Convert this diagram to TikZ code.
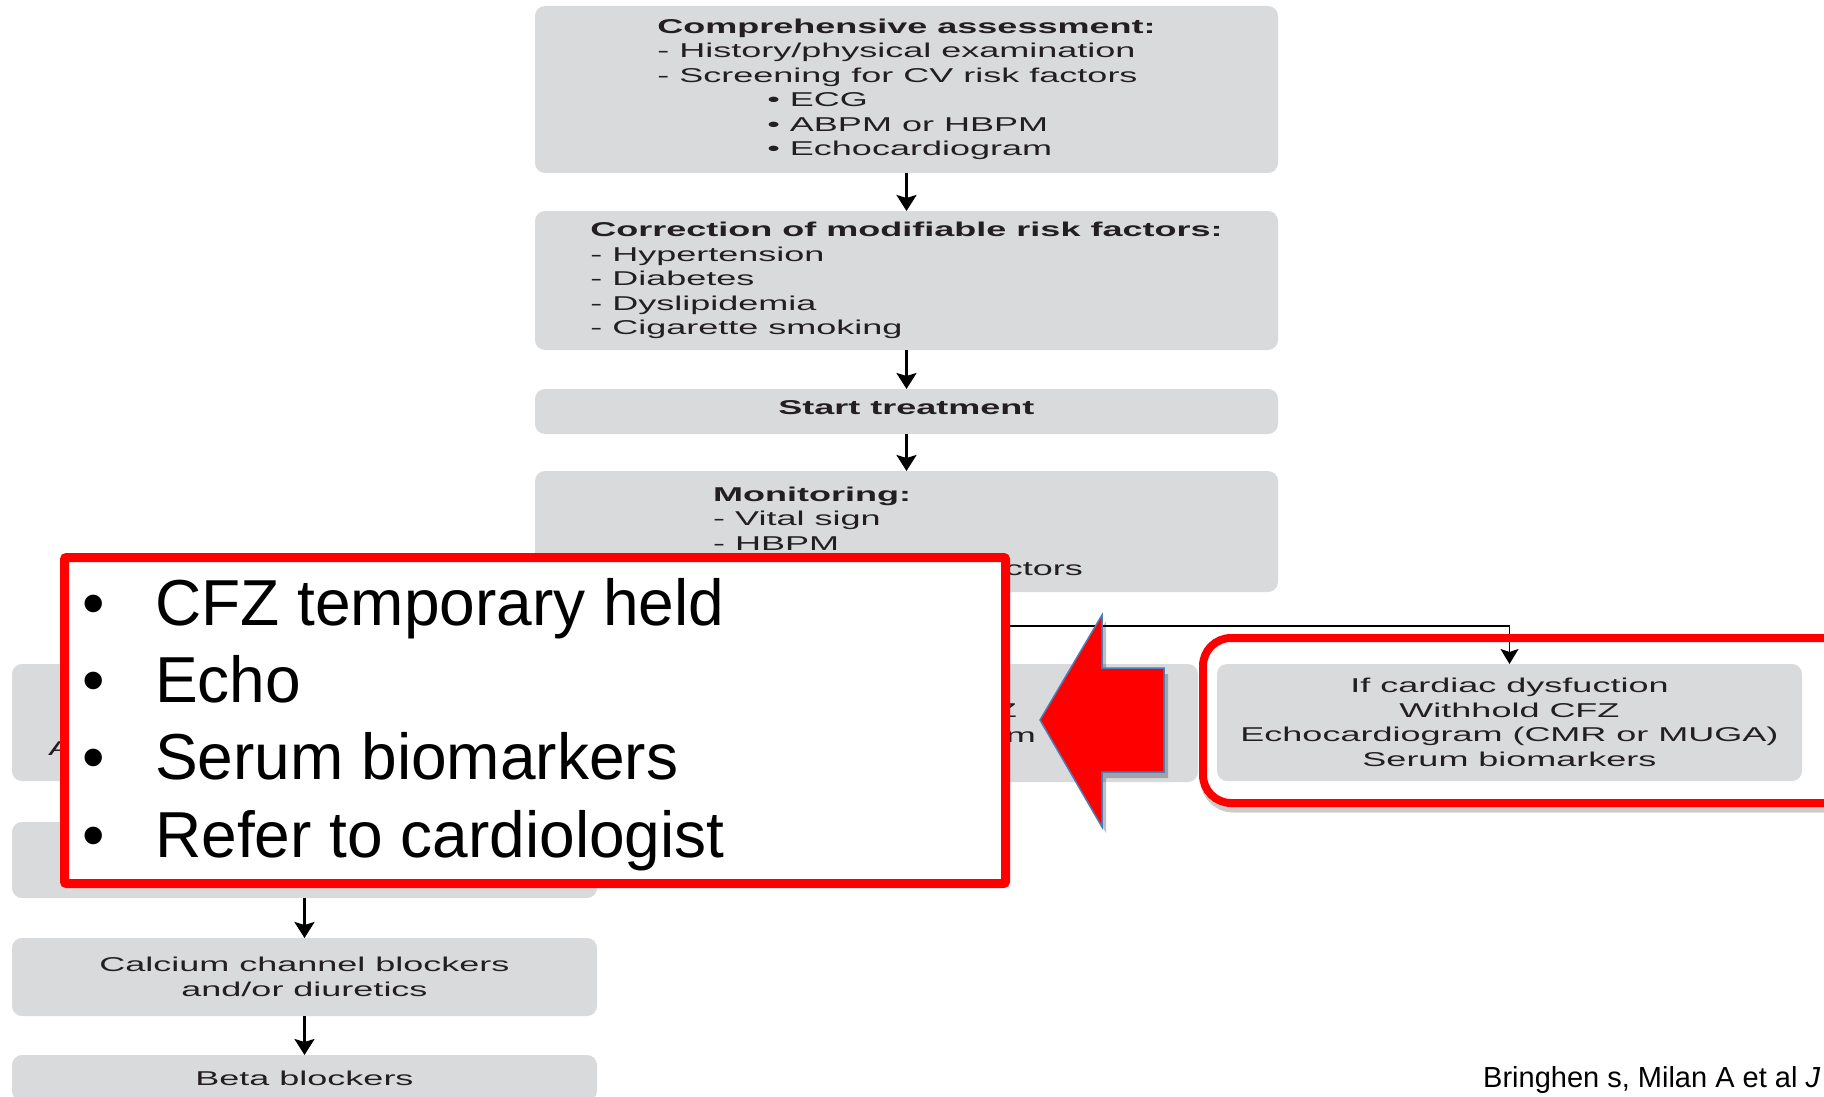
\documentclass[tikz,border=0pt]{standalone}
\usepackage{fontspec}
\setmainfont{Liberation Sans}
\newfontfamily\flowfont[FakeStretch=1.8]{Liberation Sans}
\newfontfamily\slidefont[FakeStretch=0.985]{Liberation Sans}
\usetikzlibrary{positioning,arrows.meta}

\definecolor{boxgray}{RGB}{217,218,220}
\definecolor{inkgray}{RGB}{35,31,32}
\definecolor{slidered}{RGB}{255,0,0}
\definecolor{edgeblue}{RGB}{74,126,187}

\begin{document}
\begin{tikzpicture}[x=1pt, y=-1pt,
    % Flowchart boxes and text
    flowbox/.style={fill=boxgray, rounded corners=10pt, inner sep=0pt, outer sep=0pt, text=inkgray, font=\flowfont\fontsize{20}{24.5}\selectfont},
    mainwidth/.style={minimum width=743pt},
    sidewidth/.style={minimum width=585pt},
    flowtext/.style={inner sep=0pt, text=inkgray, font=\flowfont\fontsize{20}{24.5}\selectfont, align=left},
    % Connectors
    flow/.style={draw=black, line width=2.5pt, -{Stealth[length=16pt, width=20pt, inset=3pt]}},
    branch/.style={draw=black, line width=1.4pt, -{Stealth[length=15pt, width=18pt, inset=3pt]}},
    % Slide overlay
    slidebox/.style={draw=slidered, line width=9pt, fill=white, rounded corners=2pt, inner sep=0pt, minimum width=941pt, minimum height=326pt},
    slidetext/.style={inner sep=0pt, font=\slidefont\fontsize{65}{77.3}\selectfont, align=left},
    hilite/.style={draw=slidered, line width=8pt, rounded corners=28pt},
    hiliteshadow/.style={draw=black, opacity=0.2, line width=9pt, rounded corners=28pt},
    callout/.style={fill=slidered, draw=edgeblue, line width=1.5pt, line join=miter},
    calloutshadow/.style={fill=black, opacity=0.25},
    citation/.style={inner sep=0pt, font=\fontsize{29}{34}\selectfont},
]

% Canvas
\path[use as bounding box, fill=white] (0,0) rectangle (1824,1097);

% Main column
\node[flowbox, mainwidth, minimum height=167pt, align=left] (assess) at (906.5,89.5)
    {{\bfseries Comprehensive assessment:}\\
     - History/physical examination\\
     - Screening for CV risk factors\\
     \hspace*{110pt}• ECG\\
     \hspace*{110pt}• ABPM or HBPM\\
     \hspace*{110pt}• Echocardiogram};
\node[flowbox, mainwidth, minimum height=139pt, align=left] (correct) at (906.5,280.5)
    {{\bfseries Correction of modifiable risk factors:}\\
     - Hypertension\\
     - Diabetes\\
     - Dyslipidemia\\
     - Cigarette smoking};
\node[flowbox, mainwidth, minimum height=45pt, text depth=7.6pt] (start) at (906.5,411.5)
    {\bfseries Start treatment};
\node[flowbox, mainwidth, minimum height=121pt] (monitor) at (906.5,531.5) {};
\node[flowtext, anchor=base west] (monitext) at (713,550)
    {{\bfseries Monitoring:}\\- Vital sign\\- HBPM};
\node[flowtext, anchor=base east] (monifrag) at (1083,575) {ctors};

% Second row
\node[flowbox, sidewidth, minimum height=117pt] (leftA) at (304.5,722.5) {};
\node[flowtext, anchor=base west] (leftfrag) at (48,755) {A};
\node[flowbox, minimum width=582pt, minimum height=118pt] (midbox) at (907,723) {};
\node[flowtext, anchor=base east] (midfragZ) at (1017,717) {Z};
\node[flowtext, anchor=base east] (midfragm) at (1036,742) {m};
\node[flowbox, sidewidth, minimum height=117pt, align=center] (cardiac) at (1509.5,722.5)
    {If cardiac dysfuction\\Withhold CFZ\\Echocardiogram (CMR or MUGA)\\Serum biomarkers};

% Left column
\node[flowbox, sidewidth, minimum height=76pt] (leftB) at (304.5,860) {};
\node[flowbox, sidewidth, minimum height=78pt, align=center] (calcium) at (304.5,977)
    {Calcium channel blockers\\and/or diuretics};
\node[flowbox, sidewidth, minimum height=46pt] (beta) at (304.5,1078) {Beta blockers};

% Arrows
\coordinate (split) at (906.5,626);
\draw[flow] (assess) -- (correct);
\draw[flow] (correct) -- (start);
\draw[flow] (start) -- (monitor);
\draw[branch] (monitor.south) -- (split) -| (cardiac.north);
\draw[flow] (leftB) -- (calcium);
\draw[flow] (calcium) -- (beta);

% Highlight round the right box (shadow kept outside the frame)
\begin{scope}[even odd rule, rounded corners=32pt]
    \clip (0,0) rectangle (1824,1097) (1199,634) rectangle (1874,807);
    \draw[hiliteshadow, shift={(2,5)}] (1203,638) rectangle (1870,803);
\end{scope}
\draw[hilite] (1203,638) rectangle (1870,803);

% Red callout arrow
\fill[calloutshadow, shift={(4,6)}] (1040,720) -- (1102,615) -- (1102,668) -- (1164,668)
    -- (1164,772) -- (1102,772) -- (1102,827) -- cycle;
\draw[callout] (1040,720) -- (1102,615) -- (1102,668) -- (1164,668)
    -- (1164,772) -- (1102,772) -- (1102,827) -- cycle;

% Slide overlay
\node[slidebox] (heldbox) at (535,720.5) {};
\node[slidetext, anchor=base west] (heldlist) at (82,857)
    {\makebox[73pt][l]{•}CFZ temporary held\\
     \makebox[73pt][l]{•}Echo\\
     \makebox[73pt][l]{•}Serum biomarkers\\
     \makebox[73pt][l]{•}Refer to cardiologist};

% Source
\node[citation, anchor=base west] (source) at (1483,1087) {Bringhen s, Milan A et al \textit{J}};

\end{tikzpicture}
\end{document}
